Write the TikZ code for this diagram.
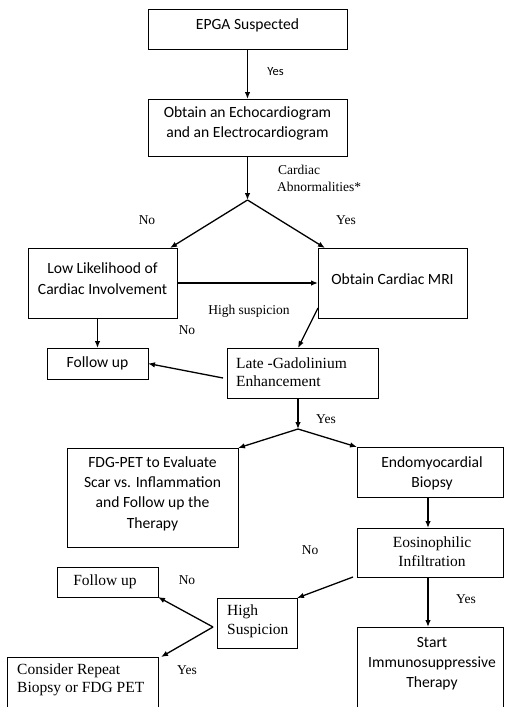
\documentclass[tikz,border=0pt]{standalone}
\usepackage{fontspec}
\setmainfont{Liberation Serif}
\newfontfamily\calib{Carlito}
\usetikzlibrary{arrows.meta,fit}
\begin{document}
\begin{tikzpicture}[x=1pt,y=-1pt,
  box/.style={draw=black, line width=1pt, inner sep=0pt, outer sep=0pt},
  sanstext/.style={font=\calib\fontsize{15.6}{20.3}\selectfont, align=center, inner sep=0pt},
  seriftext/.style={font=\fontsize{15.5}{18.5}\selectfont, align=left, inner sep=0pt, anchor=west},
  lbl/.style={font=\fontsize{13.5}{17}\selectfont, inner sep=0pt},
  arr/.style={line width=1.3pt, -{Latex[length=7pt,width=5.5pt]}}
]
\path[use as bounding box] (0,0) rectangle (504,707);
\clip (0,0) rectangle (504,707);
\fill[white] (0,0) rectangle (504,707);

% boxes
\node[box, fit={(148,9)(347,49)}] (epga) {};
\node[box, fit={(148,99)(347,156)}] (echo) {};
\node[box, fit={(28,248)(177,318)}] (low) {};
\node[box, fit={(318,248)(467,318)}] (mri) {};
\node[box, fit={(47,348)(148,379)}] (fu1) {};
\node[box, fit={(227,348)(378,398)}] (lge) {};
\node[box, fit={(67,448)(238,547)}] (fdg) {};
\node[box, fit={(357,447)(503,497)}] (endo) {};
\node[box, fit={(357,528)(503,577)}] (eos) {};
\node[box, fit={(357,627)(503,712)}] (start) {};
\node[box, fit={(217,598)(297,648)}] (hs) {};
\node[box, fit={(57,567)(158,597)}] (fu2) {};
\node[box, fit={(7,657)(158,712)}] (cons) {};

% box texts
\node[sanstext] (tepga) at (247.5,25) {EPGA Suspected};
\node[sanstext] (techo) at (247.5,123.5) {Obtain an Echocardiogram\\and an Electrocardiogram};
\node[sanstext] (tlow) at (102.5,278.5) {Low Likelihood of\\Cardiac Involvement};
\node[sanstext] (tmri) at (392.5,279) {Obtain Cardiac MRI};
\node[sanstext] (tfu1) at (97.5,363.5) {Follow up};
\node[seriftext] (tlge) at (236,372) {Late -Gadolinium\\Enhancement};
\node[sanstext] (tfdg) at (152.5,493.5) {FDG-PET to Evaluate\\Scar vs. Inflammation\\and Follow up the\\Therapy};
\node[sanstext] (tendo) at (432,473) {Endomyocardial\\Biopsy};
\node[seriftext, align=center, anchor=center] (teos) at (432,551.5) {Eosinophilic\\Infiltration};
\node[seriftext] (ths) at (227,621.5) {High\\Suspicion};
\node[seriftext, anchor=center] (tfu2) at (105,582) {Follow up};
\node[seriftext] (tcons) at (17,680) {Consider Repeat\\Biopsy or FDG PET};
\node[sanstext] (tstart) at (432,663.5) {Start\\Immunosuppressive\\Therapy};

% connectors
\coordinate (a1) at (247.5,200);
\coordinate (a2) at (298,429);
\coordinate (a3) at (213,627);
\draw[arr] (epga.south) -- (echo.north);
\draw[arr] (echo.south) -- (a1);
\draw[arr] (a1) -- ([xshift=-7pt]low.north east);
\draw[arr] (a1) -- ([xshift=7pt]mri.north west);
\draw[arr] (low.east) -- (mri.west);
\draw[arr] (low.south -| fu1.north) -- (fu1.north);
\draw[arr] ([yshift=10pt]mri.south west) -- ([xshift=-4.5pt]lge.north);
\draw[arr] ([yshift=-5pt,xshift=-4pt]lge.west) -- (fu1.east);
\draw[arr] ([xshift=-4.5pt]lge.south) -- (a2);
\draw[arr] (a2) -- (fdg.north east);
\draw[arr] (a2) -- (endo.north west);
\draw[arr] ([xshift=-2pt]endo.south) -- ([xshift=-2pt]eos.north);
\draw[arr] ([xshift=-4pt]eos.south west) -- (hs.north east);
\draw[arr] ([xshift=-2pt]eos.south) -- ([xshift=-2pt]start.north);
\draw[arr] (a3) -- (fu2.south east);
\draw[arr] (a3) -- ([xshift=3pt]cons.north east);

% labels
\node[font=\calib\fontsize{12.5}{15}\selectfont, inner sep=0pt] (y1) at (275.5,72) {Yes};
\node[lbl, align=left, anchor=west] (ca) at (277,178.5) {\hspace*{1pt}Cardiac\\Abnormalities*};
\node[lbl] (n1) at (147,220) {No};
\node[lbl] (y2) at (346,220) {Yes};
\node[lbl] (hsl) at (249,311) {High suspicion};
\node[lbl] (n2) at (187,330) {No};
\node[lbl] (y3) at (326,419) {Yes};
\node[lbl] (n3) at (310,550) {No};
\node[lbl] (n4) at (187,580) {No};
\node[lbl] (y4) at (466,599) {Yes};
\node[lbl] (y5) at (187,670) {Yes};
\end{tikzpicture}
\end{document}
